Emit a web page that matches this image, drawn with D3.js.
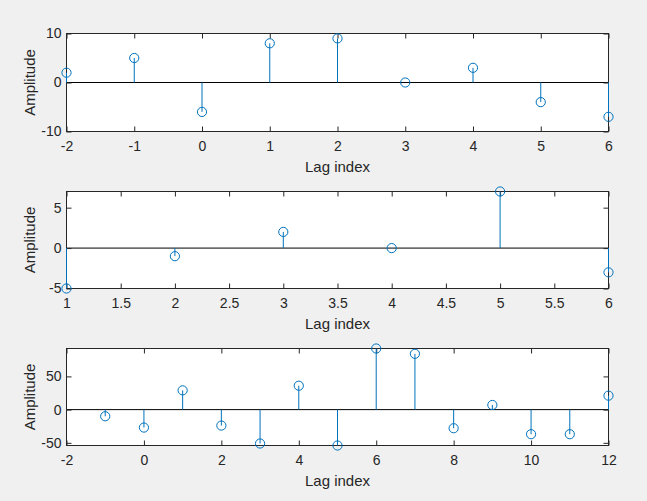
<!DOCTYPE html>
<html>
<head>
<meta charset="utf-8">
<script src="https://cdn.jsdelivr.net/npm/d3@7"></script>
<style>
  body { margin: 0; background: #f0f0f0; }
  svg { display: block; font-family: "Liberation Sans", Arial, sans-serif; }
  .tick text { fill: #262626; font-size: 14px; }
  .tick line { stroke: #262626; }
</style>
</head>
<body>
<svg width="647" height="501"></svg>
<script>
// stem data for the three subplots
var lag1 = [-2, -1, 0, 1, 2, 3, 4, 5, 6]
var amp1 = [2, 5, -6, 8, 9, 0, 3, -4, -7]
var lag2 = [1, 2, 3, 4, 5, 6]
var amp2 = [-5, -1, 2, 0, 7, -3]
var lag3 = [-1, 0, 1, 2, 3, 4, 5, 6, 7, 8, 9, 10, 11, 12]
var amp3 = [-10, -27, 29, -24, -51, 36, -54, 92, 84, -28, 7, -37, -37, 21]

// tick values
var xTicks1 = [-2, -1, 0, 1, 2, 3, 4, 5, 6]
var yTicks1 = [-10, 0, 10]
var xTicks2 = [1, 1.5, 2, 2.5, 3, 3.5, 4, 4.5, 5, 5.5, 6]
var yTicks2 = [-5, 0, 5]
var xTicks3 = [-2, 0, 2, 4, 6, 8, 10, 12]
var yTicks3 = [-50, 0, 50]

var svg = d3.select("svg")
var blue = "#0072bd", ink = "#262626"
var left = 66.5, right = 608.5

function stemPlot(lags, amps, xDom, yDom, xTicks, yTicks, top, bottom) {
  var x = d3.scaleLinear().domain(xDom).range([left, right])
  var y = d3.scaleLinear().domain(yDom).range([bottom, top])
  var g = svg.append("g")

  g.append("rect")
    .attr("x", left).attr("y", top)
    .attr("width", right - left).attr("height", bottom - top)
    .attr("fill", "#fff")

  // baseline
  g.append("line")
    .attr("x1", left).attr("x2", right)
    .attr("y1", y(0)).attr("y2", y(0))
    .attr("stroke", "#000").attr("stroke-width", 1)

  var fmt = function(d) { return String(d) }
  g.append("g").attr("transform", "translate(0," + bottom + ")")
    .call(d3.axisBottom(x).tickValues(xTicks).tickFormat(fmt).tickSizeInner(-5).tickSizeOuter(0).tickPadding(10))
  g.append("g").attr("transform", "translate(0," + top + ")")
    .call(d3.axisTop(x).tickValues(xTicks).tickFormat("").tickSizeInner(-5).tickSizeOuter(0))
  g.append("g").attr("transform", "translate(" + left + ",0)")
    .call(d3.axisLeft(y).tickValues(yTicks).tickFormat(fmt).tickSizeInner(-5).tickSizeOuter(0).tickPadding(5))
  g.append("g").attr("transform", "translate(" + right + ",0)")
    .call(d3.axisRight(y).tickValues(yTicks).tickFormat("").tickSizeInner(-5).tickSizeOuter(0))
  g.selectAll(".domain").remove()

  g.append("rect")
    .attr("x", left).attr("y", top)
    .attr("width", right - left).attr("height", bottom - top)
    .attr("fill", "none").attr("stroke", ink).attr("stroke-width", 1)

  var pts = lags.map(function(d, i) { return {lag: d, amp: amps[i]} })

  g.selectAll(".stem").data(pts).enter().append("line")
    .attr("x1", function(d) { return x(d.lag) })
    .attr("x2", function(d) { return x(d.lag) })
    .attr("y1", y(0))
    .attr("y2", function(d) { return y(d.amp) })
    .attr("stroke", blue).attr("stroke-width", 1)

  g.selectAll(".mark").data(pts).enter().append("circle")
    .attr("cx", function(d) { return x(d.lag) })
    .attr("cy", function(d) { return y(d.amp) })
    .attr("r", 4.6)
    .attr("fill", "none").attr("stroke", blue).attr("stroke-width", 1)

  g.append("text")
    .attr("x", (left + right) / 2).attr("y", bottom + 40)
    .attr("text-anchor", "middle").attr("fill", ink)
    .style("font-size", "15px")
    .text("Lag index")

  g.append("text")
    .attr("transform", "translate(35," + ((top + bottom) / 2) + ") rotate(-90)")
    .attr("text-anchor", "middle").attr("fill", ink)
    .style("font-size", "15px")
    .text("Amplitude")
}

stemPlot(lag1, amp1, [-2, 6], [-10, 10], xTicks1, yTicks1, 33.5, 131.5)
stemPlot(lag2, amp2, [1, 6], [-5, 7], xTicks2, yTicks2, 191.5, 288.5)
stemPlot(lag3, amp3, [-2, 12], [-54, 92], xTicks3, yTicks3, 348.5, 445.5)
</script>
</body>
</html>
